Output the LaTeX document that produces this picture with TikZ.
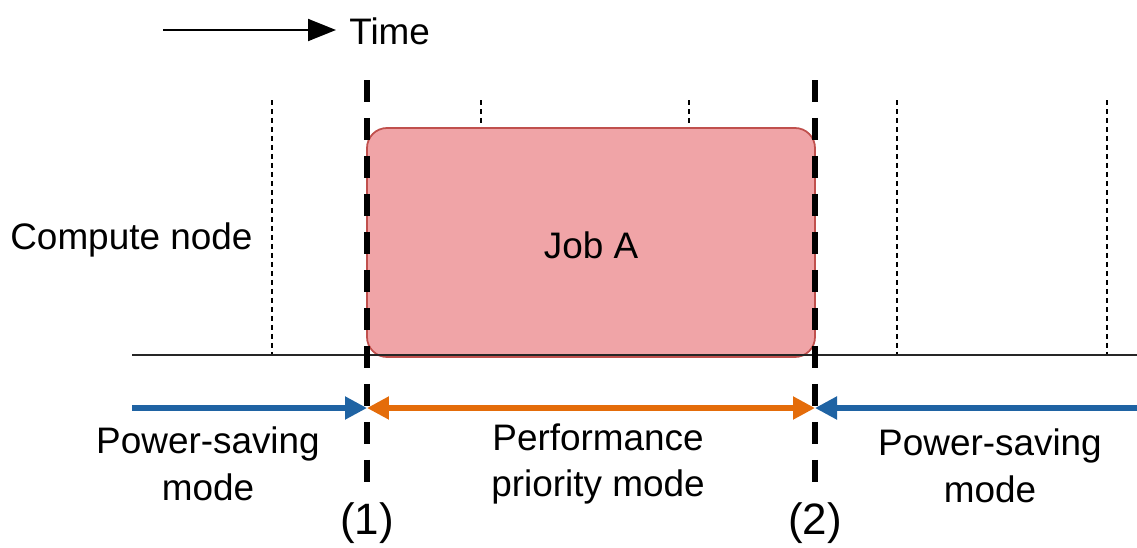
\documentclass[tikz,border=0pt]{standalone}
\usepackage{fontspec}
\setmainfont{Liberation Sans}
\usetikzlibrary{arrows.meta}
\definecolor{jobfill}{HTML}{F0A4A7}
\definecolor{jobline}{HTML}{C0504D}
\definecolor{saveblue}{HTML}{1F63A3}
\definecolor{perforange}{HTML}{E46C0A}
\tikzset{
  lbl/.style={font=\fontsize{21}{26.7}\selectfont, align=center, inner sep=0pt},
  marklbl/.style={font=\fontsize{25}{30}\selectfont, inner sep=0pt},
  slot/.style={line width=1.1pt, dash pattern=on 0.1cm off 0.08cm},
  switch/.style={line width=2.9pt, dash pattern=on 0.44cm off 0.32cm},
  modearrow/.style={line width=2.9pt, -{Triangle[length=0.44cm,width=0.44cm]}},
}
\begin{document}
\begin{tikzpicture}[x=0.02cm, y=-0.02cm]
\useasboundingbox (0,0) rectangle (1137,548);

% time direction
\coordinate (t0) at (163,30);
\coordinate (t1) at (336,30);
\draw[line width=1.1pt, -{Triangle[length=0.56cm,width=0.44cm]}] (t0) -- (t1);
\node[lbl, anchor=west] (time) at (349,31) {Time};

% time slots
\foreach \x/\n in {272/a, 481/b, 689/c, 897/d, 1107/e} {
  \coordinate (s\n top) at (\x,100);
  \coordinate (s\n bot) at (\x,355);
  \draw[slot] (s\n top) -- (s\n bot);
}

% the job
\node[draw=jobline, line width=1pt, fill=jobfill, rounded corners=0.4cm,
      minimum width=448*0.02cm, minimum height=229*0.02cm, inner sep=0pt]
      (job) at (591,242.5) {};
\node[lbl] (joblbl) at (591,245) {Job A};

% node timeline
\node[lbl, anchor=west] (cn) at (10,240) {Compute node};
\coordinate (b0) at (132,355);
\coordinate (b1) at (1137,355);
\draw[line width=1.4pt, black!85] (b0) -- (b1);

% mode switches
\coordinate (k1top) at (367,80);
\coordinate (k1bot) at (367,482);
\coordinate (k2top) at (815,80);
\coordinate (k2bot) at (815,482);
\draw[switch] (k1top) -- (k1bot);
\draw[switch] (k2top) -- (k2bot);
\node[marklbl] (m1) at (367,523) {(1)};
\node[marklbl] (m2) at (815,523) {(2)};

% modes
\coordinate (aL) at (132,408);
\coordinate (a1) at (367,408);
\coordinate (a2) at (815,408);
\coordinate (aR) at (1137,408);
\draw[modearrow, saveblue] (aL) -- (a1);
\draw[modearrow, perforange, {Triangle[length=0.44cm,width=0.44cm]}-{Triangle[length=0.44cm,width=0.44cm]}] (a1) -- (a2);
\draw[modearrow, saveblue] (aR) -- (a2);

\node[lbl] (ps1) at (208,464) {Power-saving\\mode};
\node[lbl] (pp) at (598,464) {Performance\\priority mode};
\node[lbl] (ps2) at (990,466) {Power-saving\\mode};
\end{tikzpicture}
\end{document}
